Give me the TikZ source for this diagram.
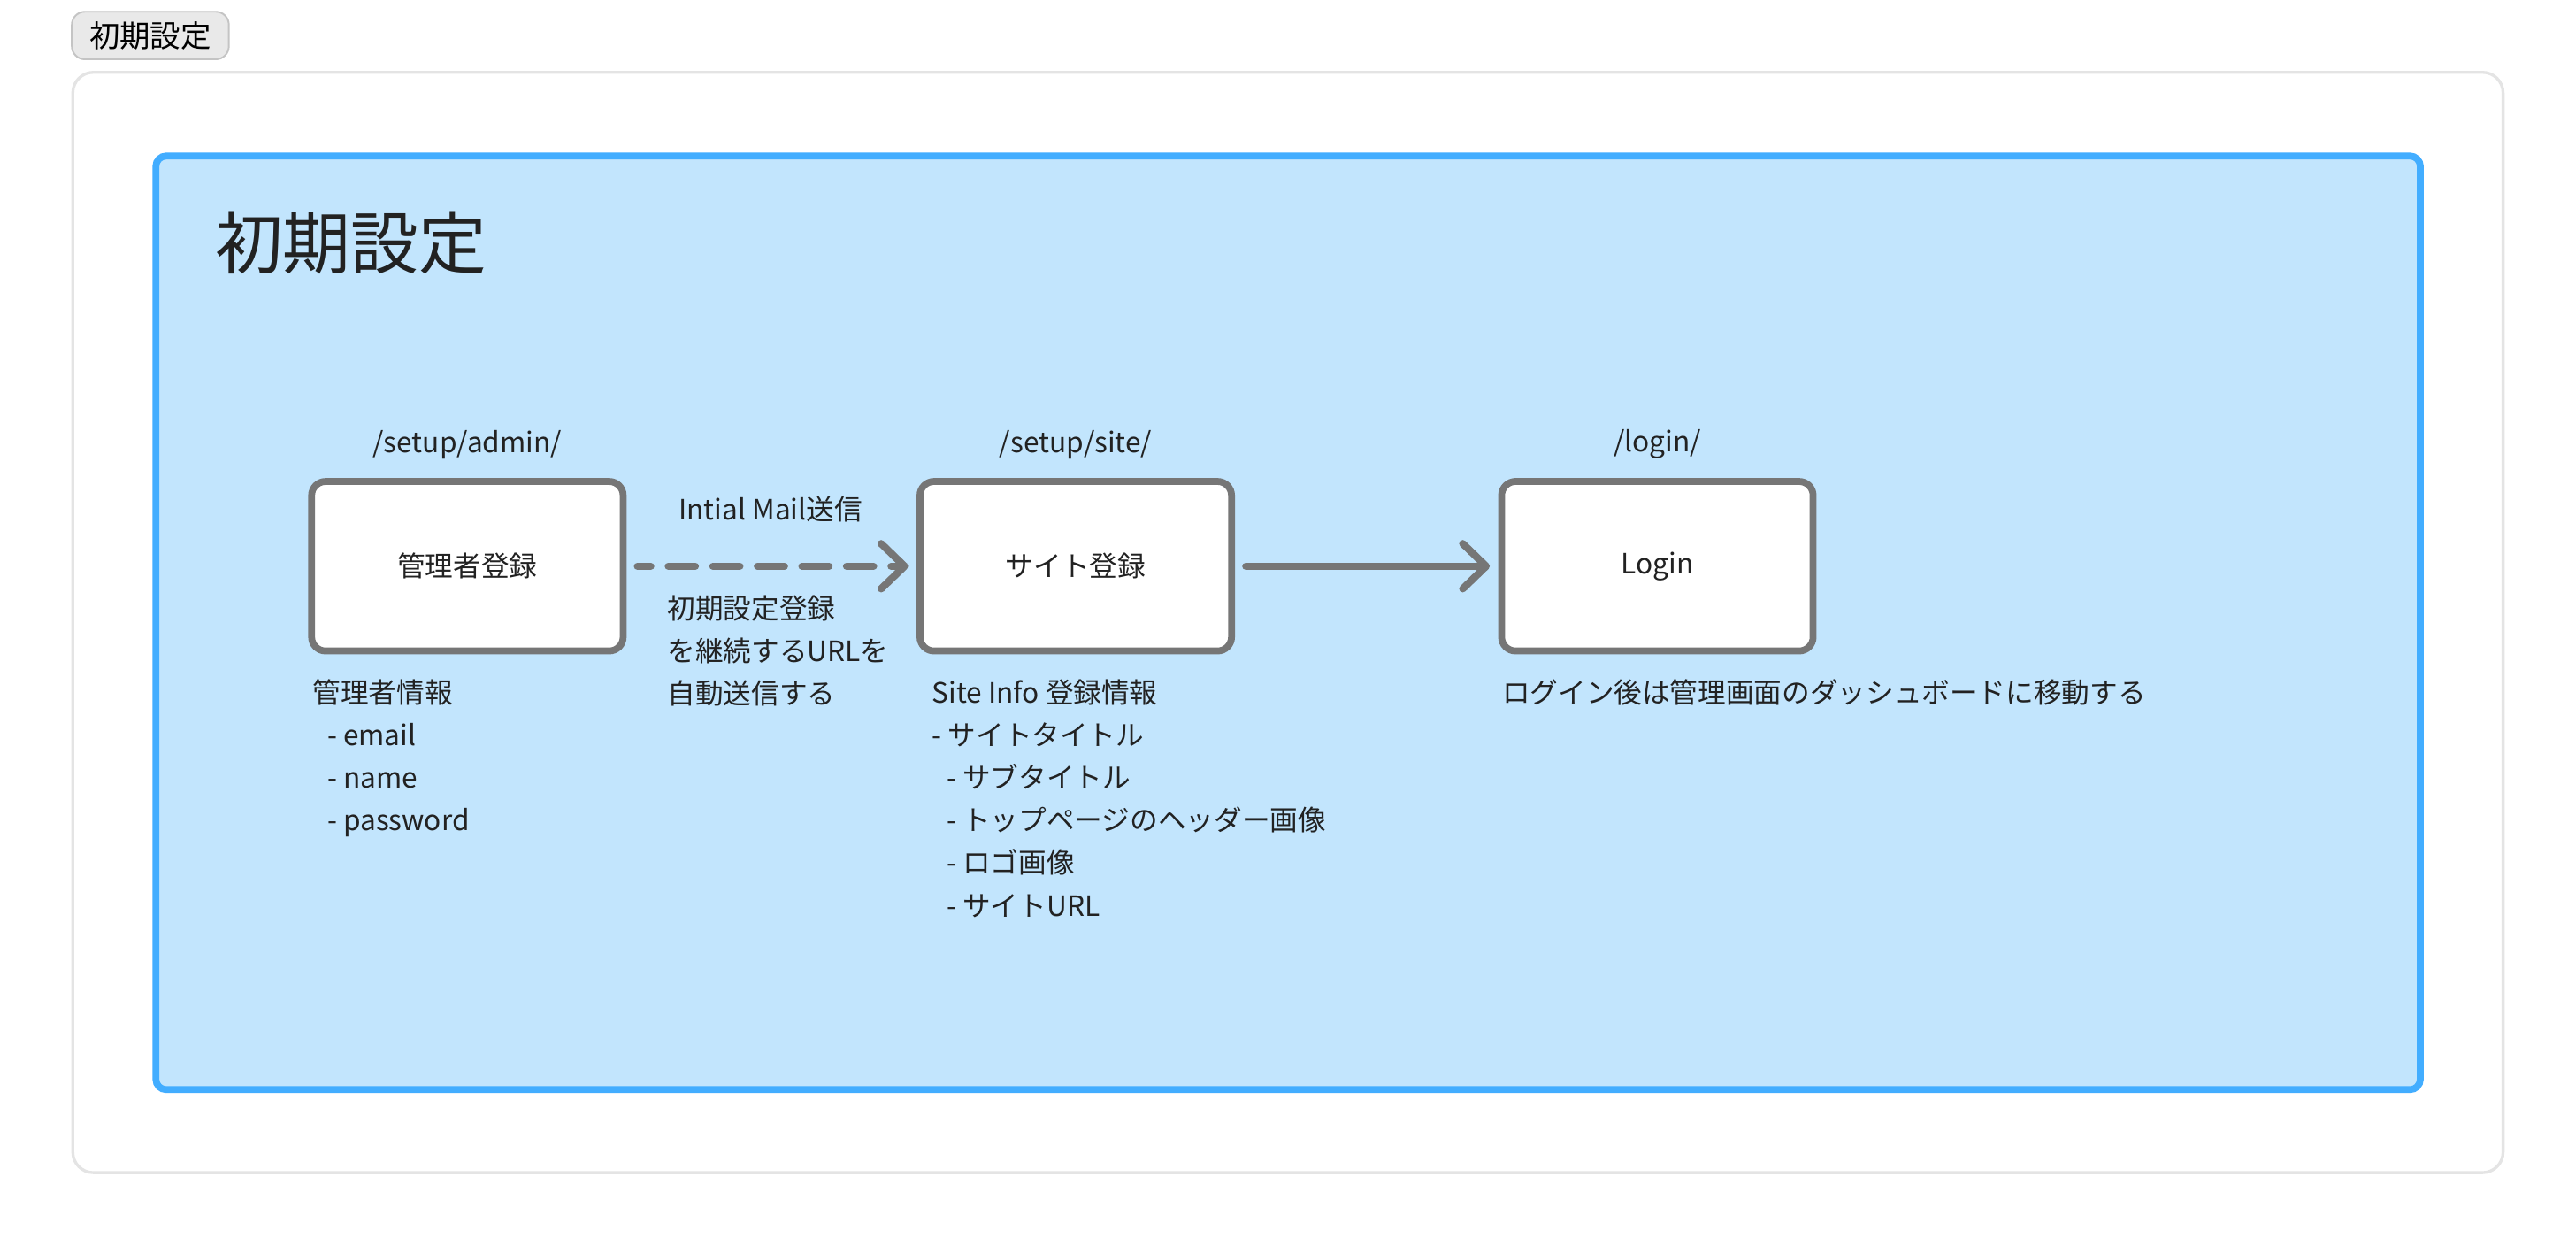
\documentclass[tikz,border=0pt]{standalone}
\usepackage{fontspec}
\setmainfont{Noto Sans CJK JP}
\usetikzlibrary{arrows.meta,positioning}

\definecolor{panelgray}{HTML}{E4E4E4}
\definecolor{btnfill}{HTML}{E9E9E9}
\definecolor{btnline}{HTML}{C4C4C4}
\definecolor{frameblue}{HTML}{42ADFF}
\definecolor{framefill}{HTML}{C2E5FD}
\definecolor{boxgray}{HTML}{767676}
\definecolor{inkgray}{HTML}{222222}

\tikzset{
	page/.style={draw=boxgray, line width=2.2pt, fill=white, rounded corners=4.5pt, minimum width=100.2pt, minimum height=54.5pt, font=\fontsize{9}{13.7}\selectfont, text=inkgray},
	note/.style={inner sep=0pt, align=left, anchor=north west, font=\fontsize{9}{13.7}\selectfont, text=inkgray},
	url/.style={inner sep=0pt, font=\fontsize{9}{13.7}\selectfont, text=inkgray},
	flow/.style={draw=boxgray, line width=2.35pt, line cap=round, -{Straight Barb[length=7.5pt,width=14.5pt,round]}, shorten <=3.5pt, shorten >=2.7pt}
}

\begin{document}
\begin{tikzpicture}[x=0.1857mm, y=-0.1857mm]
	\clip (0,0) rectangle (1568,758);
	
	\node (tab) at (91.5,21.6) [draw=btnline, fill=btnfill, rounded corners=4.2pt, line width=0.55pt, minimum width=50.5pt, minimum height=15.3pt, inner sep=0pt, font=\fontsize{9.8}{12}\selectfont, text=black] {初期設定};
	
	\draw [panelgray, line width=0.95pt, fill=white, rounded corners=6.6pt] (44.3,44) rectangle (1523.6,713.5);
	\draw [frameblue, line width=2.2pt, fill=framefill, rounded corners=3.3pt] (94.9,94.9) rectangle (1473.2,663);
	
	\node (title) at (130.5,148) [anchor=west, inner sep=0pt, font=\fontsize{21.85}{26}\selectfont, text=inkgray] {初期設定};
	
	\node (admin) at (284.5,344.5) [page] {管理者登録};
	\node (site) at (654.8,344.5) [page] {サイト登録};
	\node (login) at (1008.8,344.5) [page] {Login};
	
	\node (adminurl) [url, above=6pt of admin] {/setup/admin/};
	\node (siteurl) [url, above=6pt of site] {/setup/site/};
	\node (loginurl) [url, above=6pt of login] {/login/};
	
	\draw [flow, dash pattern=on 8.66pt off 5.67pt, dash phase=4.4pt] (admin) -- (site);
	\draw [flow] (site) -- (login);
	
	\node (mail) at (469,310) [url] {Intial Mail送信};
	\node (mailnote) at (406,362) [note] {初期設定登録\\を継続するURLを\\自動送信する};
	
	\node (admininfo) at (190,413) [note] {管理者情報\\\hspace*{4.7pt}- email\\\hspace*{4.7pt}- name\\\hspace*{4.7pt}- password};
	\node (siteinfo) at (567,413) [note] {Site Info 登録情報\\- サイトタイトル\\\hspace*{4.7pt}- サブタイトル\\\hspace*{4.7pt}- トップページのヘッダー画像\\\hspace*{4.7pt}- ロゴ画像\\\hspace*{4.7pt}- サイトURL};
	\node (loginnote) at (914,413) [note] {ログイン後は管理画面のダッシュボードに移動する};
	
\end{tikzpicture}
\end{document}
